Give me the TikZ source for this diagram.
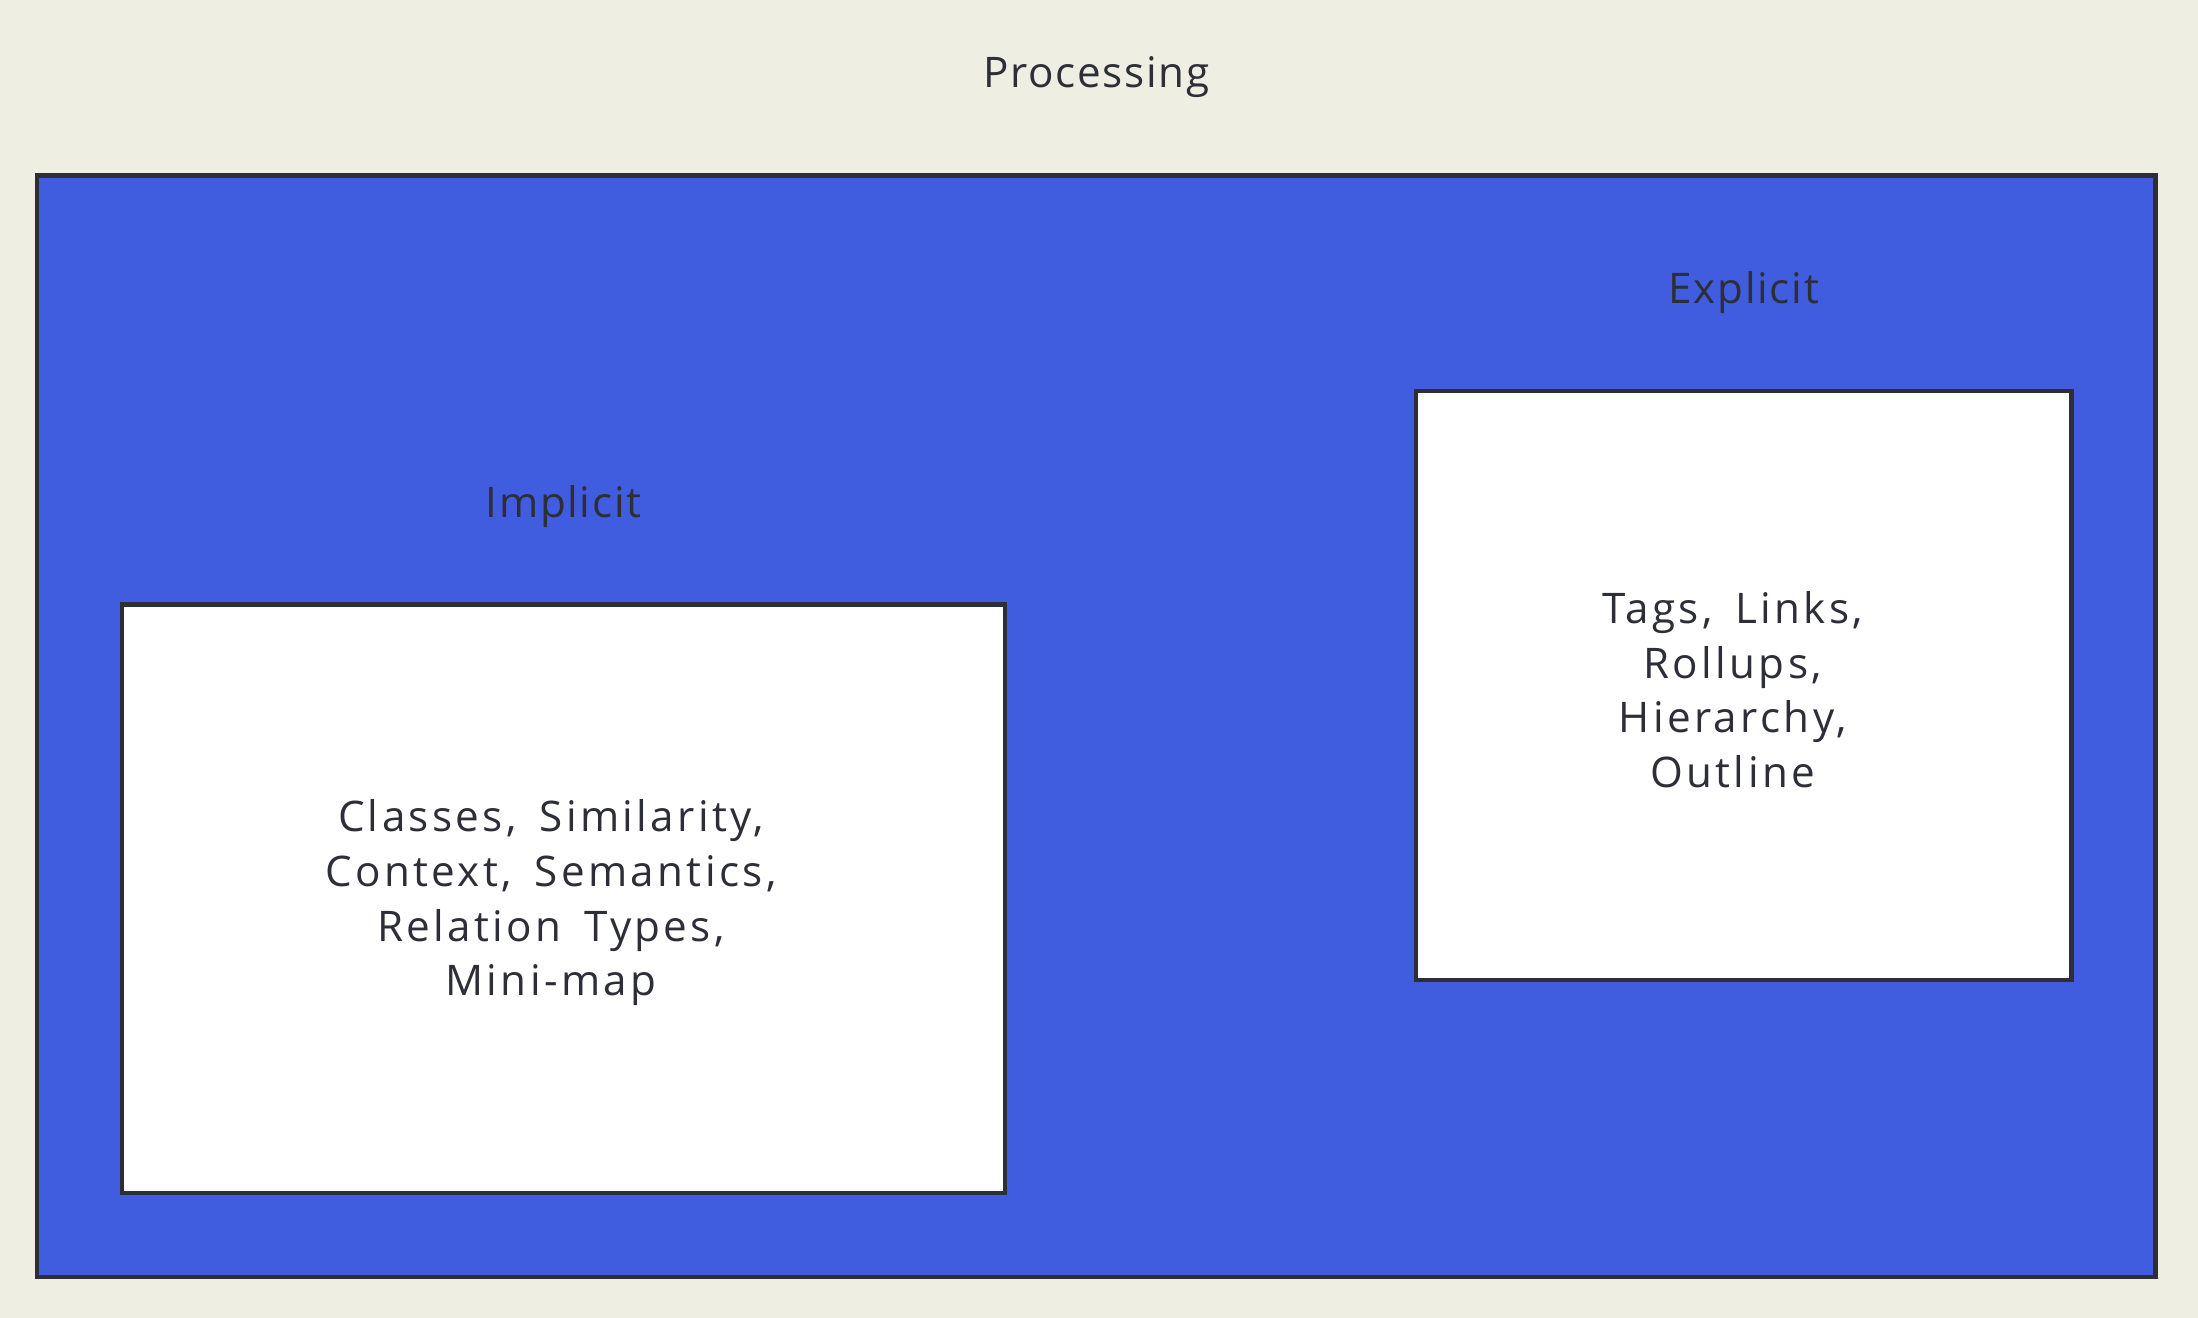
\documentclass[tikz,border=0pt]{standalone}
\usepackage{fontspec}
\setmainfont{Open Sans}[LetterSpace=4]
\newfontfamily\boxfont{Open Sans}[LetterSpace=8, WordSpace=1.6]
\usepackage{tikz}
\usepackage{xcolor}
\usetikzlibrary{calc}
\definecolor{paper}{HTML}{EEEEE2}
\definecolor{royal}{HTML}{415DDF}
\definecolor{ink}{HTML}{2E2E38}

\begin{document}
\begin{tikzpicture}[x=0.014018cm, y=-0.014018cm,
    frame/.style={draw=ink, line width=1.3pt, inner sep=0pt},
    label/.style={text=ink, font=\fontsize{12}{15}\selectfont},
    boxtext/.style={text=ink, align=center, font=\boxfont\fontsize{12}{15.6}\selectfont}]
            % canvas
            \fill[paper] (0, 0) rectangle (1568, 940);
            \useasboundingbox (0, 0) rectangle (1568, 940);
            % coordinates
            \coordinate (outer-center) at (782, 518);
            \coordinate (implicit-center) at (402, 641);
            \coordinate (explicit-center) at (1244, 489);
            % outer processing area
            \node[frame, fill=royal, minimum width=21.195cm, minimum height=11.018cm] (processing) at (outer-center) {};
            \node[label] (processing-label) at (782, 55) {Processing};
            % implicit box
            \node[frame, fill=white, minimum width=8.831cm, minimum height=5.888cm] (implicit) at (implicit-center) {};
            \node[label] (implicit-label) at (402, 361) {Implicit};
            \node[boxtext] (implicit-text) at (393, 644) {Classes, Similarity,\\Context, Semantics,\\Relation Types,\\Mini-map};
            % explicit box
            \node[frame, fill=white, minimum width=6.560cm, minimum height=5.888cm] (explicit) at (explicit-center) {};
            \node[label] (explicit-label) at (1244, 209) {Explicit};
            \node[boxtext] (explicit-text) at (1236, 492) {Tags, Links,\\Rollups,\\Hierarchy,\\Outline};
        \end{tikzpicture}
\end{document}
